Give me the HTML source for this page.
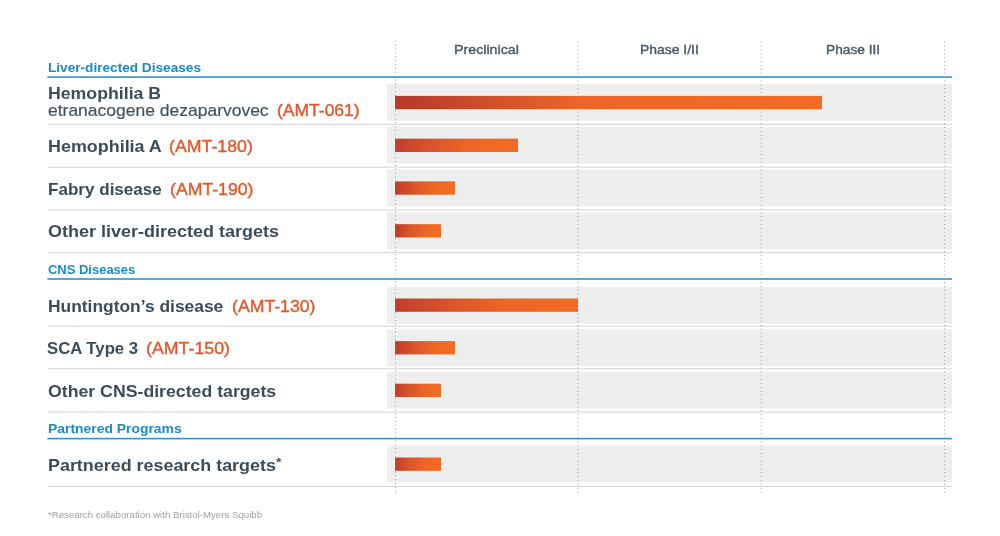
<!DOCTYPE html>
<html lang="en"><head><meta charset="utf-8"><title>Pipeline</title>
<style>
html,body{margin:0;padding:0;background:#fff;}
body{width:1000px;height:536px;position:relative;overflow:hidden;font-family:"Liberation Sans",sans-serif;}
svg.g{position:absolute;left:0;top:0;}
.t{position:absolute;white-space:nowrap;transform-origin:0 0;line-height:1;}
.name{font-weight:bold;color:#3c4c5b;}
.reg{font-weight:normal;color:#46525c;-webkit-text-stroke:0.2px #46525c;}
.amt{font-weight:normal;color:#e2592c;-webkit-text-stroke:0.4px #e2592c;}
.sec{font-weight:bold;color:#1c8ac8;}
.hd{font-weight:normal;color:#4a5866;-webkit-text-stroke:0.4px #4a5866;}
.fn{color:#a0a0a0;}
</style></head><body>
<svg class="g" width="1000" height="536" viewBox="0 0 1000 536">
<defs>
<linearGradient id="gs" x1="0" y1="0" x2="1" y2="0"><stop offset="0" stop-color="#bd3c28"/><stop offset="0.35" stop-color="#dc572a"/><stop offset="0.7" stop-color="#f06725"/><stop offset="1" stop-color="#f36b22"/></linearGradient>
<linearGradient id="gl" x1="0" y1="0" x2="1" y2="0"><stop offset="0" stop-color="#b63828"/><stop offset="0.2" stop-color="#cf4c2a"/><stop offset="0.44" stop-color="#ee6526"/><stop offset="1" stop-color="#f26a24"/></linearGradient>
<linearGradient id="gm" x1="0" y1="0" x2="1" y2="0"><stop offset="0" stop-color="#c03e29"/><stop offset="0.3" stop-color="#d9542a"/><stop offset="0.6" stop-color="#ee6526"/><stop offset="1" stop-color="#f36b22"/></linearGradient>
</defs>

<rect x="387.0" y="84.0" width="565.0" height="36.9" fill="#edeeed"/>
<rect x="387.0" y="126.75" width="565.0" height="36.9" fill="#edeeed"/>
<rect x="387.0" y="169.5" width="565.0" height="36.9" fill="#edeeed"/>
<rect x="387.0" y="212.25" width="565.0" height="36.9" fill="#edeeed"/>
<rect x="387.0" y="287.0" width="565.0" height="36.9" fill="#edeeed"/>
<rect x="387.0" y="329.4" width="565.0" height="36.9" fill="#edeeed"/>
<rect x="387.0" y="371.7" width="565.0" height="36.9" fill="#edeeed"/>
<rect x="387.0" y="445.6" width="565.0" height="36.9" fill="#edeeed"/>
<rect x="47.8" y="123.85" width="904.2" height="1.1" fill="#d6d7d8"/>
<rect x="47.8" y="166.60" width="904.2" height="1.1" fill="#d6d7d8"/>
<rect x="47.8" y="209.35" width="904.2" height="1.1" fill="#d6d7d8"/>
<rect x="47.8" y="252.10" width="904.2" height="1.1" fill="#d6d7d8"/>
<rect x="47.8" y="325.75" width="904.2" height="1.1" fill="#d6d7d8"/>
<rect x="47.8" y="368.25" width="904.2" height="1.1" fill="#d6d7d8"/>
<rect x="47.8" y="411.55" width="904.2" height="1.1" fill="#d6d7d8"/>
<rect x="47.8" y="485.95" width="904.2" height="1.1" fill="#d6d7d8"/>
<rect x="47.4" y="76.25" width="904.6" height="1.6" fill="#3391c9"/>
<rect x="47.4" y="278.20" width="904.6" height="1.6" fill="#3391c9"/>
<rect x="47.4" y="437.80" width="904.6" height="1.6" fill="#3391c9"/>
<line x1="395.4" y1="40.8" x2="395.4" y2="491.8" stroke="#9c9c9c" stroke-width="1" stroke-dasharray="1 2.879"/>
<line x1="578.15" y1="41.7" x2="578.15" y2="492.7" stroke="#9c9c9c" stroke-width="1" stroke-dasharray="1 2.879"/>
<line x1="761.2" y1="41.7" x2="761.2" y2="492.7" stroke="#9c9c9c" stroke-width="1" stroke-dasharray="1 2.879"/>
<line x1="944.65" y1="41.7" x2="944.65" y2="492.7" stroke="#9c9c9c" stroke-width="1" stroke-dasharray="1 2.879"/>
<rect x="395.1" y="95.9" width="426.9" height="13.3" fill="url(#gl)"/>
<rect x="395.1" y="138.65" width="122.9" height="13.3" fill="url(#gm)"/>
<rect x="395.1" y="181.4" width="59.9" height="13.3" fill="url(#gs)"/>
<rect x="395.1" y="224.15" width="45.9" height="13.3" fill="url(#gs)"/>
<rect x="395.1" y="298.5" width="182.9" height="13.3" fill="url(#gm)"/>
<rect x="395.1" y="341.1" width="59.9" height="13.3" fill="url(#gs)"/>
<rect x="395.1" y="383.7" width="45.9" height="13.3" fill="url(#gs)"/>
<rect x="395.1" y="457.5" width="45.9" height="13.3" fill="url(#gs)"/>
</svg>
<div class="t sec" id="t0" style="left:47.79px;top:62.44px;font-size:12.5px;transform:scaleX(1.0898)">Liver-directed Diseases</div>
<div class="t name" id="t1" style="left:48.03px;top:85.05px;font-size:16.5px;transform:scaleX(1.0726)">Hemophilia B</div>
<div class="t reg" id="t2" style="left:47.81px;top:101.63px;font-size:17px;transform:scaleX(1.0283)">etranacogene dezaparvovec</div>
<div class="t amt" id="t3" style="left:277.19px;top:102.05px;font-size:16.5px;transform:scaleX(1.0607)">(AMT-061)</div>
<div class="t name" id="t4" style="left:47.73px;top:138.05px;font-size:16.5px;transform:scaleX(1.0856)">Hemophilia A</div>
<div class="t amt" id="t5" style="left:169.20px;top:138.05px;font-size:16.5px;transform:scaleX(1.0756)">(AMT-180)</div>
<div class="t name" id="t6" style="left:47.71px;top:181.05px;font-size:16.5px;transform:scaleX(1.0342)">Fabry disease</div>
<div class="t amt" id="t7" style="left:170.21px;top:181.05px;font-size:16.5px;transform:scaleX(1.0716)">(AMT-190)</div>
<div class="t name" id="t8" style="left:47.95px;top:223.05px;font-size:16.5px;transform:scaleX(1.0903)">Other liver-directed targets</div>
<div class="t sec" id="t9" style="left:47.73px;top:264.44px;font-size:12.5px;transform:scaleX(1.0376)">CNS Diseases</div>
<div class="t name" id="t10" style="left:47.85px;top:298.05px;font-size:16.5px;transform:scaleX(1.0542)">Huntington&rsquo;s disease</div>
<div class="t amt" id="t11" style="left:231.53px;top:298.05px;font-size:16.5px;transform:scaleX(1.0716)">(AMT-130)</div>
<div class="t name" id="t12" style="left:47.48px;top:340.05px;font-size:16.5px;transform:scaleX(1.0139)">SCA Type 3</div>
<div class="t amt" id="t13" style="left:145.68px;top:340.05px;font-size:16.5px;transform:scaleX(1.0775)">(AMT-150)</div>
<div class="t name" id="t14" style="left:47.97px;top:383.05px;font-size:16.5px;transform:scaleX(1.0726)">Other CNS-directed targets</div>
<div class="t sec" id="t15" style="left:47.64px;top:423.44px;font-size:12.5px;transform:scaleX(1.1125)">Partnered Programs</div>
<div class="t name" id="t16" style="left:47.73px;top:457.05px;font-size:16.5px;transform:scaleX(1.0851)">Partnered research targets</div>
<div class="t name" id="t17" style="left:275.52px;top:456.71px;font-size:11px;transform:scaleX(1.2813)">*</div>
<div class="t fn" id="t18" style="left:47.72px;top:510.57px;font-size:8.8px;transform:scaleX(1.0970)">*Research collaboration with Bristol-Myers Squibb</div>
<div class="t hd" id="t19" style="left:454.00px;top:43.01px;font-size:13px;transform:scaleX(1.0953)">Preclinical</div>
<div class="t hd" id="t20" style="left:640.11px;top:43.01px;font-size:13px;transform:scaleX(1.0696)">Phase I/II</div>
<div class="t hd" id="t21" style="left:825.97px;top:43.01px;font-size:13px;transform:scaleX(1.0550)">Phase III</div>
</body></html>
